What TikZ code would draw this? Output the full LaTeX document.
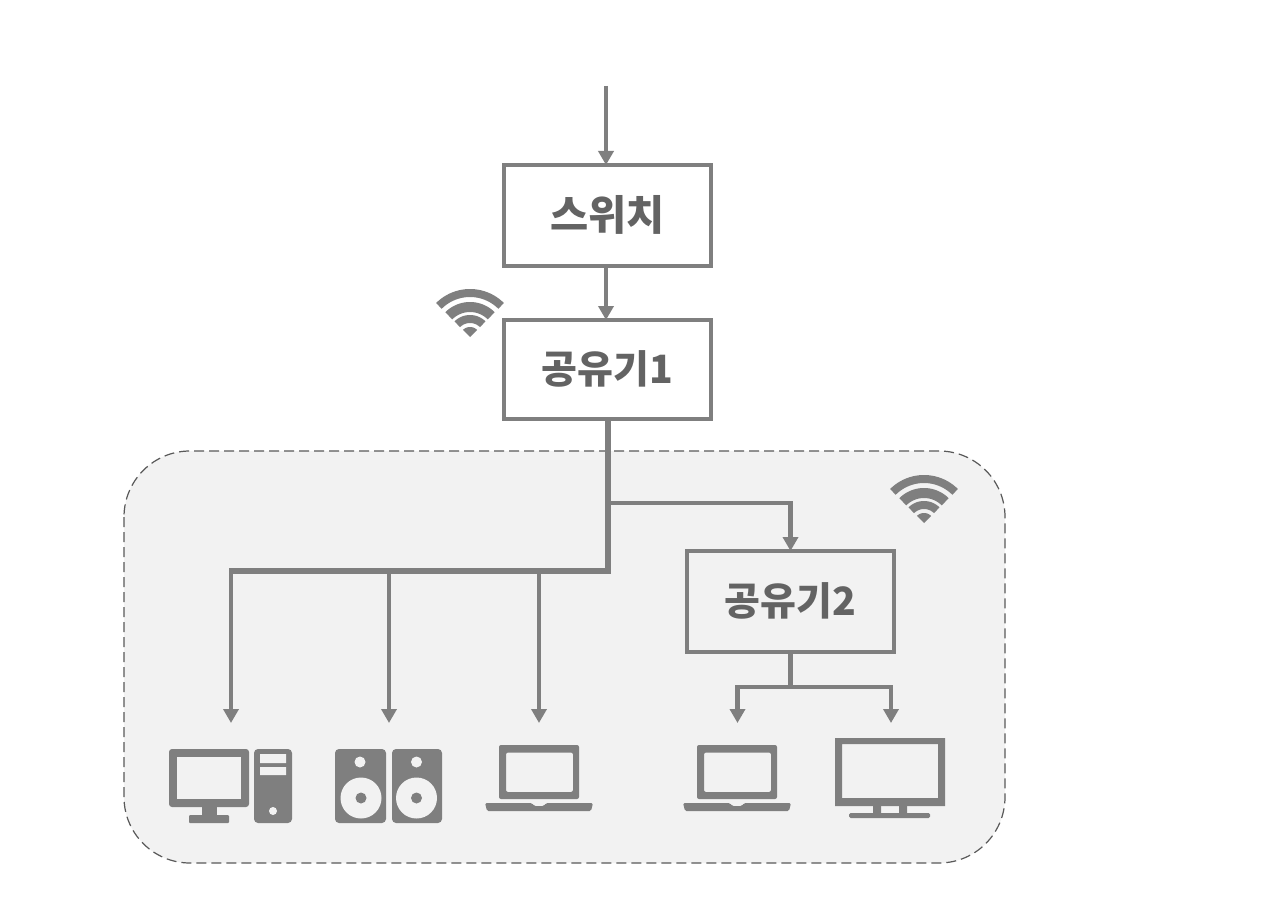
\documentclass[tikz,border=0pt]{standalone}
\usepackage{fontspec}
\setmainfont{Noto Sans CJK KR Black}
\usetikzlibrary{arrows.meta}
\definecolor{ink}{HTML}{7F7F7F}
\definecolor{txt}{HTML}{636363}
\definecolor{panel}{HTML}{F2F2F2}
\newcommand{\boxlabel}[1]{\raisebox{5pt}{#1}}
\tikzset{
  boxnode/.style={draw=ink,line width=4pt,fill=white,outer sep=0pt,inner sep=0pt,text=txt,font=\fontsize{39}{44}\selectfont,anchor=center},
  conn/.style={draw=ink,line width=4.5pt},
  trunk/.style={draw=ink,line width=6pt,line cap=butt,line join=miter},
  arrowconn/.style={conn,-{Triangle[length=14pt,width=15pt]}},
  icon/.style={fill=ink,even odd rule},
  wifi/.pic={
    \foreach \R/\W in {44/8,30/10,18/8}{
      \draw[ink,line width=\W pt] plot[domain=45:135,samples=24] ({\R*cos(\x)},{-\R*sin(\x)});
    }
    \fill[ink] (0,0) -- plot[domain=45:135,samples=12] ({10*cos(\x)},{-10*sin(\x)}) -- cycle;
  },
  laptop/.pic={
    \fill[icon,rounded corners=2pt] (499,799) -- (499,745) -- (579,745) -- (579,799) -- cycle
      (506,752.5) rectangle (573,792);
    \fill[ink,rounded corners=1.5pt] (485,803) -- (532,803) -- (534,806) -- (544,806) -- (546,803) -- (593,803) -- (591,811) -- (487,811) -- cycle;
  },
}
\begin{document}
\begin{tikzpicture}[x=1pt,y=-1pt]
\useasboundingbox (0,0) rectangle (1280,920);
\fill[white] (0,0) rectangle (1280,920);
% dashed panel
\draw[fill=panel,draw=black!65,line width=1.2pt,dash pattern=on 10pt off 5pt,rounded corners=66pt] (124,451) rectangle (1005,863);

% boxes
\node[boxnode,font=\fontsize{41.5}{44}\selectfont,minimum width=207pt,minimum height=101pt] (sw) at (607.5,215.5) {\boxlabel{스위치}};
\node[boxnode,minimum width=207pt,minimum height=99pt] (r1) at (607.5,369.5) {\boxlabel{공유기1}};
\node[boxnode,fill=panel,minimum width=207pt,minimum height=101pt] (r2) at (790.5,601.5) {\boxlabel{공유기2}};

% named connector ends
\coordinate (in) at (606,86);
\coordinate (junc) at (607.5,571);
\coordinate (tee) at (607.5,503);
\coordinate (pc) at (231,723);
\coordinate (spk) at (389,723);
\coordinate (lap) at (539,723);
\coordinate (lap2) at (737.5,723);
\coordinate (tv) at (891,723);
\coordinate (fork) at (790.5,687);
\coordinate (corner) at (231,571);
\coordinate (trunkend) at (228.75,571);

% connectors
\draw[arrowconn] (in) -- (in |- sw.north);
\draw[arrowconn] (in |- sw.south) -- (in |- r1.north);
\draw[arrowconn] (tee) -| (r2.north);
\draw[arrowconn] (corner) -- (pc);
\draw[arrowconn] (spk |- junc) -- (spk);
\draw[arrowconn] (lap |- junc) -- (lap);
\draw[trunk] (r1.south) -- (junc) -- (trunkend);
\draw[conn] (r2.south) -- (fork);
\draw[arrowconn] (fork) -| (lap2);
\draw[arrowconn] (fork) -| (tv);

% wifi
\pic at (470,337) {wifi};
\pic at (924,523) {wifi};

% desktop
\fill[icon,rounded corners=3pt] (169,749) rectangle (249,807) ;
\fill[panel] (177,757) rectangle (241,799);
\fill[ink] (202,806) rectangle (217,816);
\fill[ink,rounded corners=1pt] (189,815) rectangle (229,823);
\fill[ink,rounded corners=4pt] (254,749) rectangle (292,823);
\fill[panel] (260,754) rectangle (286,763) (260,767) rectangle (286,775) (273,811) circle[radius=4pt];

% speakers
\fill[ink,rounded corners=4pt] (335,749) rectangle (386,823);
\fill[ink,rounded corners=4pt] (392,749) rectangle (442,823);
\fill[panel] (360,762) circle[radius=5.5pt] (361,798) circle[radius=20.5pt]
             (416.5,762) circle[radius=5.5pt] (416.5,798) circle[radius=20.5pt];
\fill[ink] (361,798) circle[radius=5.5pt] (416.5,798) circle[radius=5.5pt];

% laptops
\pic at (0,0) {laptop};
\pic at (198,0) {laptop};

% tv
\fill[icon] (835,738) rectangle (945,806) (842,744) rectangle (938,798);
\fill[ink] (873,805) rectangle (881,814) (899,805) rectangle (907,814);
\fill[ink,rounded corners=1.5pt] (849,813) rectangle (930,818);
\end{tikzpicture}
\end{document}
